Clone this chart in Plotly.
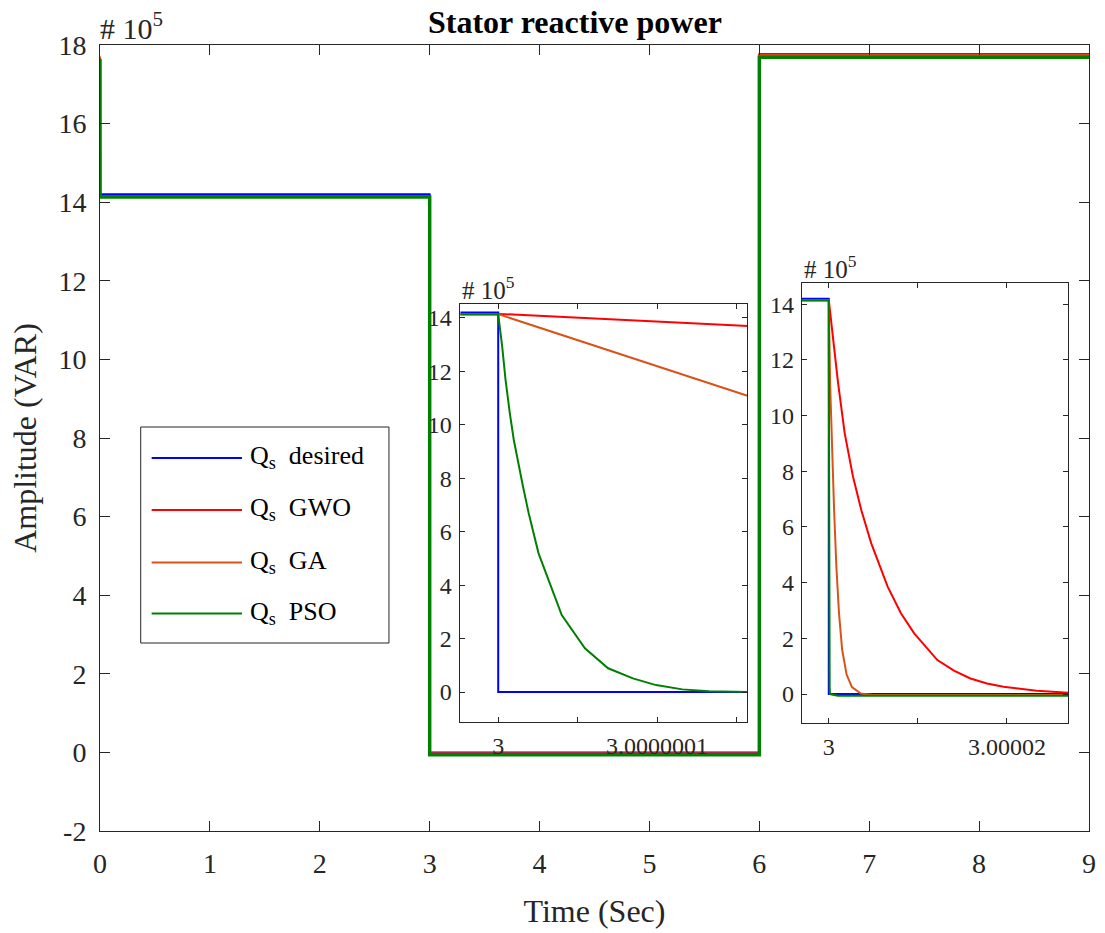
import plotly.graph_objects as go

# ---------------- data (amplitude in units of 1e5 VAR) ----------------
# Q_s desired
t_desired = [0.0, 3.0, 3.0, 6.0, 6.0, 9.0]
q_desired = [14.20, 14.20, 0.0, 0.0, 17.72, 17.72]

# Q_s GWO
t_gwo = [0.0, 0.0005, 3.0, 3.00000104, 3.00000178, 3.00000271, 3.00000364,
         3.00000476, 3.00000661, 3.00000810, 3.00000959, 3.00001219,
         3.00001405, 3.00001590, 3.00001776, 3.00001962, 3.00002334, 3.00002687,
         3.00006, 6.0, 6.0, 9.0]
q_gwo = [17.70, 14.15, 14.15, 11.18, 9.38, 7.82, 6.62,
         5.42, 3.86, 2.90, 2.18, 1.22,
         0.84, 0.56, 0.38, 0.26, 0.12, 0.05,
         -0.03, -0.03, 17.77, 17.77]

# Q_s GA
t_ga = [0.0, 0.0005, 3.0, 3.0000001569, 3.00000040, 3.00000060, 3.00000085,
        3.00000115, 3.00000150, 3.00000200, 3.00000260, 3.00000360, 3.000005,
        6.0, 6.0, 9.0]
q_ga = [17.70, 14.14, 14.14, 11.09, 8.50, 6.60, 4.60,
        2.90, 1.60, 0.70, 0.25, 0.02, -0.03,
        -0.03, 17.74, 17.74]

# Q_s PSO
t_pso = [0.0, 0.0005, 3.0, 3.0000000025, 3.0000000046, 3.0000000073,
         3.0000000098, 3.0000000156, 3.0000000192, 3.0000000254, 3.000000040,
         3.0000000546, 3.0000000692, 3.0000000848, 3.0000000994, 3.000000116,
         3.0000001327, 3.0000001571, 3.000001, 6.0, 6.0, 9.0]
q_pso = [17.65, 14.13, 14.13, 12.93, 11.69, 10.44,
         9.44, 7.69, 6.69, 5.19, 2.88,
         1.64, 0.89, 0.51, 0.26, 0.10,
         0.03, 0.0, -0.06, -0.06, 17.69, 17.69]

series_names = ["Q<sub>s</sub> desired", "Q<sub>s</sub> GWO", "Q<sub>s</sub> GA", "Q<sub>s</sub> PSO"]
series_colors = ["#0000FF", "#FF0000", "#D95319", "#008000"]

main_xticks = [0, 1, 2, 3, 4, 5, 6, 7, 8, 9]
main_yticks = [-2, 0, 2, 4, 6, 8, 10, 12, 14, 16, 18]
main_ytext = ["-2", "0", "2", "4", "6", "8", "10", "12", "14", "16", "18"]
inset_yticks = [0, 2, 4, 6, 8, 10, 12, 14]
inset1_xticks = [3.0, 3.0000001]
inset1_xtext = ["3", "3.0000001"]
inset1_xminor = [3.00000005, 3.00000015]
inset2_xticks = [3.0, 3.00002]
inset2_xtext = ["3", "3.00002"]
inset2_xminor = [3.00001]

# ---------------- figure ----------------
FONT = "Liberation Serif, Times New Roman, serif"
AX = "#262626"

fig = go.Figure()
series = [(t_desired, q_desired), (t_gwo, q_gwo), (t_ga, q_ga), (t_pso, q_pso)]
main_widths = [2, 2, 2, 3.5]
for axis_ix, (xa, ya) in enumerate([("x", "y"), ("x2", "y2"), ("x3", "y3")]):
    for k, (tt, qq) in enumerate(series):
        w = main_widths[k] if axis_ix == 0 else 2
        fig.add_trace(go.Scatter(x=tt, y=qq, mode="lines", name=series_names[k],
                                 line=dict(color=series_colors[k], width=w),
                                 xaxis=xa, yaxis=ya, showlegend=False,
                                 hoverinfo="skip"))

common = dict(showline=True, linecolor=AX, linewidth=1, mirror="ticks",
              ticks="inside", tickcolor=AX, showgrid=False, zeroline=False,
              tickfont=dict(family=FONT, color=AX))

fig.update_layout(
    width=1105, height=933,
    margin=dict(l=100, r=9, t=45, b=102),
    paper_bgcolor="white", plot_bgcolor="white",
    xaxis=dict(common, domain=[0, 1], range=[0, 9], tickvals=main_xticks,
               ticklen=10, tickfont=dict(family=FONT, color=AX, size=28),
               ticklabelstandoff=7,
               title=dict(text="Time (Sec)", font=dict(family=FONT, size=32, color=AX), standoff=22)),
    yaxis=dict(common, domain=[0, 1], range=[-2, 18], tickvals=main_yticks, ticktext=main_ytext,
               ticklen=10, tickfont=dict(family=FONT, color=AX, size=28),
               ticklabelstandoff=7,
               title=dict(text="Amplitude (VAR)", font=dict(family=FONT, size=32, color=AX), standoff=12)),
    xaxis2=dict(common, domain=[0.3645, 0.6546], anchor="y2", range=[2.99999997625, 3.0000001569],
                tickvals=inset1_xticks, ticktext=inset1_xtext, ticklen=5,
                minor=dict(tickvals=inset1_xminor, ticks="inside", ticklen=5, tickcolor=AX),
                tickfont=dict(family=FONT, color=AX, size=24), ticklabelstandoff=2),
    yaxis2=dict(common, domain=[0.1387, 0.6705], anchor="x2", range=[-1.12, 14.52],
                tickvals=inset_yticks, ticklen=5,
                tickfont=dict(family=FONT, color=AX, size=24), ticklabelstandoff=3),
    xaxis3=dict(common, domain=[0.7095, 0.9789], anchor="y3", range=[2.99999696, 3.00002687],
                tickvals=inset2_xticks, ticktext=inset2_xtext, ticklen=5,
                minor=dict(tickvals=inset2_xminor, ticks="inside", ticklen=5, tickcolor=AX),
                tickfont=dict(family=FONT, color=AX, size=24), ticklabelstandoff=2),
    yaxis3=dict(common, domain=[0.1370, 0.6968], anchor="x3", range=[-1.05, 14.75],
                tickvals=inset_yticks, ticklen=5,
                tickfont=dict(family=FONT, color=AX, size=24), ticklabelstandoff=2),
    showlegend=False,
)

# title and exponent labels
fig.add_annotation(text="<b>Stator reactive power</b>", xref="paper", yref="paper",
                   x=(578 - 100) / 996, y=(831 - 22) / 786, xanchor="center", yanchor="middle",
                   showarrow=False, font=dict(family=FONT, size=32, color="black"))
fig.add_annotation(text="# 10<sup>5</sup>", xref="x domain", yref="y domain", x=0, y=1.0,
                   xanchor="left", yanchor="bottom", showarrow=False, xshift=-2, yshift=-2,
                   font=dict(family=FONT, size=30, color=AX))
fig.add_annotation(text="# 10<sup>5</sup>", xref="x2 domain", yref="y2 domain", x=0, y=1.0,
                   xanchor="left", yanchor="bottom", showarrow=False, xshift=0, yshift=-2,
                   font=dict(family=FONT, size=25, color=AX))
fig.add_annotation(text="# 10<sup>5</sup>", xref="x3 domain", yref="y3 domain", x=0, y=1.0,
                   xanchor="left", yanchor="bottom", showarrow=False, xshift=0, yshift=-2,
                   font=dict(family=FONT, size=25, color=AX))

# legend box drawn like the MATLAB one
def px(xp):
    return (xp - 100) / 996

def py(yp):
    return (831 - yp) / 786

fig.add_shape(type="rect", xref="paper", yref="paper", x0=px(141), x1=px(391),
              y0=py(643), y1=py(427), line=dict(color=AX, width=1), fillcolor="white")
row_y = [458, 510, 562.5, 613.5]
for k in range(4):
    fig.add_shape(type="line", xref="paper", yref="paper", x0=px(152), x1=px(243),
                  y0=py(row_y[k]), y1=py(row_y[k]),
                  line=dict(color=series_colors[k], width=2))
    fig.add_annotation(text=series_names[k].replace("</sub> ", "</sub>\u00a0\u00a0"),
                       xref="paper", yref="paper",
                       x=px(249), y=py(row_y[k] - 1), xanchor="left", yanchor="middle",
                       showarrow=False, font=dict(family=FONT, size=26, color="black"))

fig.write_html("out.html")
